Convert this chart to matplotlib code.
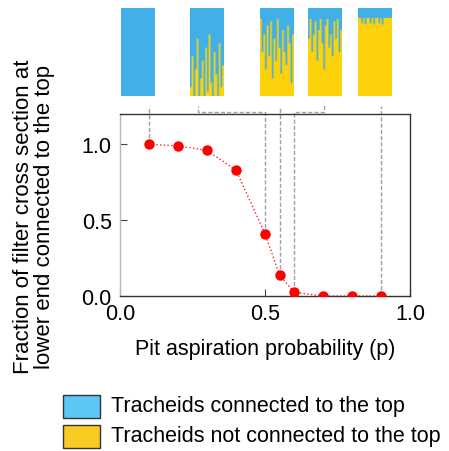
import numpy as np
import matplotlib
matplotlib.use("Agg")
import matplotlib.pyplot as plt
from matplotlib.colors import LinearSegmentedColormap
from matplotlib.patches import Rectangle

plt.rcParams['font.family'] = ['Liberation Sans', 'DejaVu Sans']

# Connected fraction versus pit aspiration probability
p_values = [0.1, 0.2, 0.3, 0.4, 0.5, 0.55, 0.6, 0.7, 0.8, 0.9]
fraction_connected = [1.0, 0.99, 0.96, 0.83, 0.41, 0.14, 0.025, 0.0, 0.0, 0.0]

# Example cross sections shown above the plot (p of each snapshot)
snapshot_p = [0.1, 0.5, 0.55, 0.6, 0.9]
# Per-column depth (fraction of height from top) that stays connected
snapshot_depths = [
    [1.0] * 20,
    [0.9, 0.55, 1.0, 0.7, 0.35, 1.0, 0.8, 0.6, 1.0, 0.45,
     0.95, 0.3, 0.85, 1.0, 0.5, 0.75, 1.0, 0.4, 0.9, 0.65],
    [0.12, 0.5, 0.3, 0.7, 0.2, 0.55, 0.15, 0.8, 0.35, 0.6,
     0.12, 0.45, 0.75, 0.25, 0.5, 0.65, 0.2, 0.4, 0.85, 0.3],
    [0.35, 0.12, 0.5, 0.3, 0.15, 0.6, 0.25, 0.12, 0.4, 0.7,
     0.2, 0.12, 0.45, 0.3, 0.55, 0.15, 0.35, 0.12, 0.5, 0.25],
    [0.11, 0.11, 0.17, 0.11, 0.18, 0.11, 0.11, 0.17, 0.11, 0.18,
     0.11, 0.11, 0.17, 0.11, 0.18, 0.11, 0.11, 0.11, 0.11, 0.11],
]

legend_labels = ["Tracheids connected to the top",
                 "Tracheids not connected to the top"]

BLUE = "#42b0e8"
YELLOW = "#fdd20a"
LEG_BLUE = "#5cc6f4"
LEG_YELLOW = "#f8cb22"
FS = 15.5

W, H = 449, 452
fig = plt.figure(figsize=(W / 100, H / 100), dpi=100)


def fbox(x0, y0, x1, y1):
    """Pixel box (top-left origin) to figure-fraction rect."""
    return [x0 / W, 1 - y1 / H, (x1 - x0) / W, (y1 - y0) / H]


ax = fig.add_axes(fbox(120, 115, 410, 297))
ax.plot(p_values, fraction_connected, color="#ff2020", ls=":", lw=1.0,
        marker="o", ms=6.5, mfc="#ff0000", mec="#ff0000", zorder=3)
ax.set_xlim(0, 1)
ax.set_ylim(0, 1.2)
ax.set_xticks([0, 0.5, 1.0])
ax.set_yticks([0, 0.5, 1.0])
ax.set_xticklabels(["0.0", "0.5", "1.0"])
ax.set_yticklabels(["0.0", "0.5", "1.0"])
ax.tick_params(direction="in", labelsize=FS, length=5, width=0.8,
               color="#444444")
ax.tick_params(axis="x", pad=5)
ax.tick_params(axis="y", pad=6)
for s in ax.spines.values():
    s.set_color("#333333")
    s.set_linewidth(1.0)
ax.spines["left"].set_color("#b8b8b8")
ax.set_xlabel("Pit aspiration probability (p)", fontsize=FS, labelpad=10)
fig.text(34 / W, 1 - 217 / H,
         "Fraction of filter cross section at\nlower end connected to the top",
         fontsize=16, rotation=90, ha="center", va="center",
         multialignment="center", linespacing=1.0)

# Dashed leaders from the plotted points up to the snapshots
dash = dict(color="#a0a0a0", ls=(0, (3, 1.5)), lw=1.0, clip_on=False, zorder=2)
yv = dict(zip(p_values, fraction_connected))
ax.plot([0.1, 0.1], [yv[0.1], 1.25], **dash)
ax.plot([0.5, 0.5, 0.27, 0.27], [yv[0.5], 1.213, 1.213, 1.25], **dash)
ax.plot([0.55, 0.55], [yv[0.55], 1.245], **dash)
ax.plot([0.6, 0.6, 0.703, 0.703], [yv[0.6], 1.213, 1.213, 1.27], **dash)
ax.plot([0.9, 0.9], [yv[0.9], 1.25], **dash)

# Snapshot panels
cmap = LinearSegmentedColormap.from_list("tr", [YELLOW, "#8cc46a", BLUE])
panel_x = [121, 190, 260, 308, 358]
rows = 80
for x0, depths in zip(panel_x, snapshot_depths):
    iax = fig.add_axes(fbox(x0, 9, x0 + 34, 97))
    ncol = len(depths)
    img = np.zeros((rows, ncol))
    r = np.arange(rows)[:, None]
    img[:] = (r < np.array(depths)[None, :] * rows).astype(float)
    iax.imshow(img, cmap=cmap, vmin=0, vmax=1, aspect="auto",
               interpolation="bilinear")
    iax.set_axis_off()

# Legend with colour swatches
fig.patches.append(Rectangle((63 / W, 1 - 419 / H), 37 / W, 23 / H,
                             transform=fig.transFigure, facecolor=LEG_BLUE,
                             edgecolor="#333333", lw=1.0))
fig.patches.append(Rectangle((63 / W, 1 - 449 / H), 37 / W, 23 / H,
                             transform=fig.transFigure, facecolor=LEG_YELLOW,
                             edgecolor="#333333", lw=1.0))
fig.text(111 / W, 1 - 407 / H, legend_labels[0], fontsize=FS, va="center")
fig.text(111 / W, 1 - 437 / H, legend_labels[1], fontsize=FS, va="center")

fig.savefig("out.png", dpi=100)
